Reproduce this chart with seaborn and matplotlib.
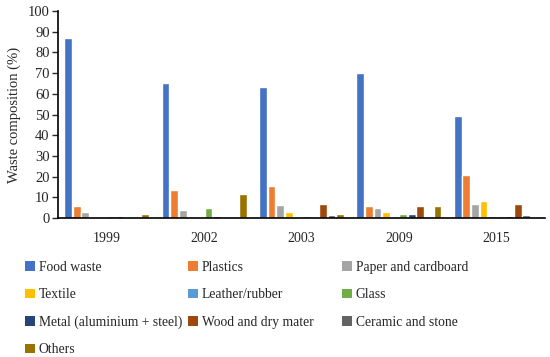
import pandas as pd
import matplotlib.pyplot as plt
import seaborn as sns
from matplotlib.patches import Patch

# Survey years and waste categories
years = ["1999", "2002", "2003", "2009", "2015"]
materials = ["Food waste", "Plastics", "Paper and cardboard", "Textile",
             "Leather/rubber", "Glass", "Metal (aluminium + steel)",
             "Wood and dry mater", "Ceramic and stone", "Others"]

# Composition (%) per material, one value per year
food_waste = [87.0, 65.0, 63.3, 70.0, 49.4]
plastics = [6.0, 13.3, 15.3, 6.0, 21.0]
paper = [3.0, 3.9, 6.3, 5.0, 6.6]
textile = [0.0, 0.0, 2.7, 3.0, 8.0]
leather = [0.0, 0.6, 0.0, 0.0, 1.0]
glass = [0.8, 4.8, 1.1, 2.1, 1.1]
metal = [1.0, 1.0, 0.6, 2.1, 1.0]
wood = [0.0, 0.0, 6.8, 6.0, 6.8]
ceramic = [0.0, 0.0, 1.6, 0.0, 1.6]
others = [2.0, 11.4, 2.1, 6.0, 0.6]

colors = ["#4472C4", "#ED7D31", "#A5A5A5", "#FFC000", "#5B9BD5",
          "#70AD47", "#264478", "#9E480E", "#636363", "#997300"]

series = [food_waste, plastics, paper, textile, leather,
          glass, metal, wood, ceramic, others]
rows = []
for mat, vals in zip(materials, series):
    for yr, v in zip(years, vals):
        rows.append({"year": yr, "material": mat, "value": v})
df = pd.DataFrame(rows)

sns.set_style("ticks")
plt.rcParams['font.family'] = ['Liberation Serif', 'DejaVu Serif']

fig = plt.figure(figsize=(5.5, 3.57), dpi=100)
ax = fig.add_axes([58 / 550, 1 - 218 / 357, 487 / 550, 207 / 357])

sns.barplot(data=df, x="year", y="value", hue="material", order=years,
            hue_order=materials, palette=colors, width=0.88, gap=0.1,
            saturation=1, ax=ax, legend=False)

ax.set_ylim(0, 100)
ax.set_yticks(range(0, 101, 10))
ax.set_xlim(-0.5, 4.5)
ax.set_xlabel("")
ax.set_ylabel("Waste composition (%)", fontsize=10.5, labelpad=5)
ax.tick_params(axis="y", labelsize=10.5, length=4, width=1, pad=2)
ax.tick_params(axis="x", labelsize=10, length=0, pad=10)
sns.despine(ax=ax)
for side in ["left", "bottom"]:
    ax.spines[side].set_linewidth(1.2)
    ax.spines[side].set_color("black")

# Legend: three fixed-position columns, filled row by row
col_x = [25 / 550, 188 / 550, 342 / 550]
for c in range(3):
    idx = list(range(c, len(materials), 3))
    handles = [Patch(facecolor=colors[i], edgecolor="none") for i in idx]
    labels = [materials[i] for i in idx]
    fig.legend(handles, labels, loc="upper left",
               bbox_to_anchor=(col_x[c], 1 - 261 / 357), frameon=False,
               fontsize=9.8, handlelength=0.7, handleheight=0.7,
               handletextpad=0.3, labelspacing=1.05, borderaxespad=0,
               borderpad=0)

fig.savefig("out.png", dpi=100)
